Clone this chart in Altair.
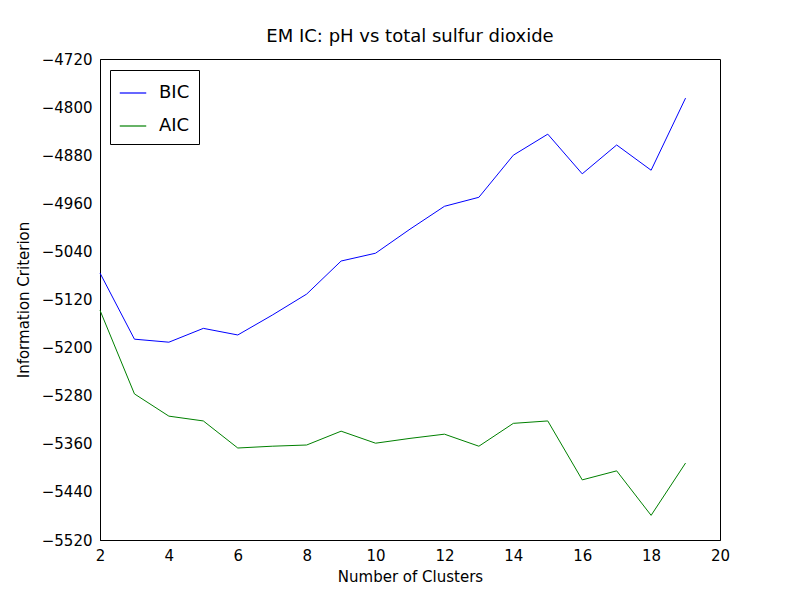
import altair as alt
import pandas as pd

clusters = list(range(2, 20))
bic = [-5076, -5186, -5191, -5168, -5179, -5146, -5111, -5056, -5043, -5003,
       -4965, -4950, -4880, -4845, -4911, -4863, -4905, -4785]
aic = [-5138, -5277, -5314, -5322, -5367, -5364, -5362, -5339, -5359, -5351,
       -5344, -5364, -5326, -5322, -5420, -5405, -5479, -5392]

df = pd.concat([
    pd.DataFrame({"k": clusters, "ic": bic, "series": "BIC"}),
    pd.DataFrame({"k": clusters, "ic": aic, "series": "AIC"}),
])

font = "DejaVu Sans"
chart = (
    alt.Chart(df)
    .mark_line(strokeWidth=1)
    .encode(
        x=alt.X("k:Q", title="Number of Clusters",
                scale=alt.Scale(domain=[2, 20], nice=False),
                axis=alt.Axis(values=list(range(2, 21, 2)), grid=False, tickSize=0,
                              labelPadding=8, titlePadding=6, labelFlush=False)),
        y=alt.Y("ic:Q", title="Information Criterion",
                scale=alt.Scale(domain=[-5520, -4720], nice=False, zero=False),
                axis=alt.Axis(values=list(range(-5520, -4719, 80)), grid=False,
                              tickSize=0, labelPadding=8, titlePadding=10, format="d",
                              labelFlush=False)),
        color=alt.Color("series:N", sort=["BIC", "AIC"],
                        scale=alt.Scale(domain=["BIC", "AIC"], range=["#0000ff", "#008000"]),
                        legend=alt.Legend(title=None, orient="none", legendX=10, legendY=11,
                                          strokeColor="black", padding=9, symbolType="stroke",
                                          symbolSize=700, symbolStrokeWidth=1.2,
                                          labelFontSize=18, labelFont=font, rowPadding=10,
                                          labelOffset=12, fillColor="white")),
    )
    .properties(
        width=620, height=481,
        title=alt.TitleParams("EM IC: pH vs total sulfur dioxide", fontSize=18,
                              fontWeight="normal", font=font, offset=6),
        autosize=alt.AutoSizeParams(type="none"),
        padding={"left": 92, "top": 51, "right": 72, "bottom": 52},
    )
    .configure_view(stroke="black", strokeWidth=1)
    .configure_axis(labelFont=font, titleFont=font, labelFontSize=15, titleFontSize=15,
                    titleFontWeight="normal", labelColor="black", titleColor="black",
                    domainColor="black")
)

chart.save("out.html", embed_options={"renderer": "svg", "actions": False})
